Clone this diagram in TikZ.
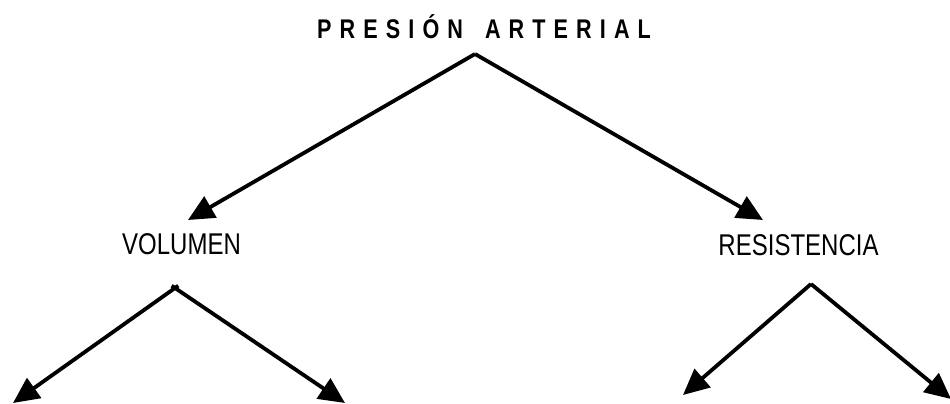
\documentclass[tikz,border=0pt]{standalone}
\usepackage{fontspec}
\setmainfont{Liberation Sans}
\newfontfamily\narrowfont[FakeStretch=0.8]{Liberation Sans}
\newfontfamily\titlefont[FakeStretch=0.8,LetterSpace=30]{Liberation Sans}
\usetikzlibrary{arrows.meta}
\tikzset{
  arr/.style={line width=3.8pt, -{Triangle[length=26pt,width=24pt]}},
  lbl/.style={inner sep=0pt, anchor=base, font=\narrowfont\fontsize{30}{32}\selectfont},
  ttl/.style={inner sep=0pt, anchor=base west, font=\titlefont\bfseries\fontsize{27}{30}\selectfont}
}
\begin{document}
\begin{tikzpicture}[x=1pt,y=-1pt]
\useasboundingbox (0,0) rectangle (950,404);
\node[ttl] (title) at (317,38) {PRESIÓN\hspace{22pt}ARTERIAL};
\node[lbl] (vol) at (181.5,254) {VOLUMEN};
\node[lbl] (res) at (798.5,255) {RESISTENCIA};
\coordinate (top) at (475,54);
\coordinate (volin) at (188,220);
\coordinate (resin) at (763,220);
\coordinate (va) at (175,288);
\coordinate (v1) at (13,403);
\coordinate (v2) at (345,403);
\coordinate (ra) at (811,284);
\coordinate (r1) at (683,395);
\coordinate (r2) at (951,399);
\draw[arr] (top) -- (volin);
\draw[arr] (top) -- (resin);
\draw[arr, shorten <=-4pt] (va) -- (v1);
\draw[arr, shorten <=-4pt] (va) -- (v2);
\draw[arr] (ra) -- (r1);
\draw[arr] (ra) -- (r2);
\end{tikzpicture}
\end{document}
